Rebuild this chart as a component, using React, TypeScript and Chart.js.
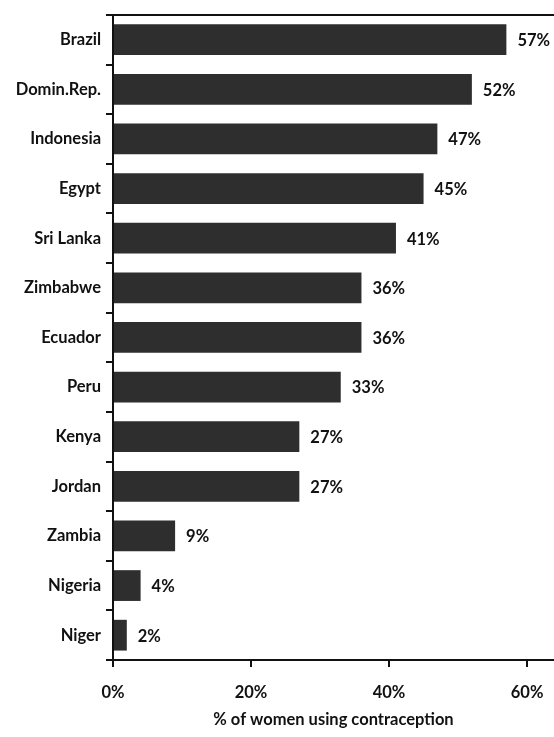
import React, { useEffect, useRef } from "react";
import { Chart, registerables } from "chart.js";

Chart.register(...registerables);

const categories = ["Brazil", "Domin.Rep.", "Indonesia", "Egypt", "Sri Lanka", "Zimbabwe", "Ecuador", "Peru", "Kenya", "Jordan", "Zambia", "Nigeria", "Niger"];
const values = [57, 52, 47, 45, 41, 36, 36, 33, 27, 27, 9, 4, 2];
const xTicks = [0, 20, 40, 60];
const axisTitle = "% of women using contraception";

const FONT = "Lato, sans-serif";

export default function App() {
  const ref = useRef<HTMLCanvasElement | null>(null);
  useEffect(() => {
    document.body.style.margin = "0";
    const canvas = ref.current!;
    const valueLabels = {
      id: "valueLabels",
      afterDatasetsDraw(chart: any) {
        const ctx = chart.ctx;
        const meta = chart.getDatasetMeta(0);
        ctx.save();
        ctx.fillStyle = "#111";
        ctx.font = `bold 16.5px ${FONT}`;
        ctx.textAlign = "left";
        ctx.textBaseline = "middle";
        meta.data.forEach((bar: any, i: number) => {
          ctx.fillText(values[i] + "%", bar.x + 11, bar.y + 1);
        });
        const a = chart.chartArea;
        ctx.strokeStyle = "#111";
        ctx.lineWidth = 2;
        ctx.beginPath();
        ctx.moveTo(a.left, a.top);
        ctx.lineTo(a.right, a.top);
        ctx.stroke();
        ctx.restore();
      },
    };
    const chart = new Chart(canvas, {
      type: "bar",
      data: {
        labels: categories,
        datasets: [
          {
            data: values,
            backgroundColor: "#2e2e2e",
            borderWidth: 0,
            barPercentage: 0.62,
            categoryPercentage: 1,
          },
        ],
      },
      options: {
        indexAxis: "y",
        animation: false,
        responsive: false,
        devicePixelRatio: 1,
        layout: { padding: { top: 14, right: 0, left: 0, bottom: 0 } },
        plugins: { legend: { display: false }, tooltip: { enabled: false } },
        scales: {
          x: {
            min: 0,
            max: 63.9,
            afterBuildTicks: (s: any) => {
              s.ticks = xTicks.map((v) => ({ value: v }));
            },
            afterFit: (s: any) => {
              s.height = 77;
              s.paddingRight = 0;
            },
            border: { display: true, color: "#111", width: 2 },
            grid: { drawOnChartArea: false, drawTicks: true, tickLength: 7, color: "#111", lineWidth: 2 },
            ticks: {
              padding: 16,
              color: "#111",
              font: { family: FONT, size: 16.5, weight: "bold" },
              callback: (v: any) => v + "%",
              maxRotation: 0,
            },
            title: {
              display: true,
              text: axisTitle,
              color: "#111",
              font: { family: FONT, size: 16.5, weight: "bold" },
              padding: { top: 0, bottom: 7 },
            },
          },
          y: {
            afterFit: (s: any) => {
              s.width = 113;
            },
            border: { display: true, color: "#111", width: 2 },
            grid: { drawOnChartArea: false, drawTicks: true, tickLength: 7, color: "#111", lineWidth: 2, offset: true },
            ticks: {
              padding: 5,
              color: "#111",
              font: { family: FONT, size: 16.5, weight: "bold" },
            },
          },
        },
      },
      plugins: [valueLabels],
    });
    return () => chart.destroy();
  }, []);
  return <canvas ref={ref} width={554} height={737} style={{ display: "block" }} />;
}
